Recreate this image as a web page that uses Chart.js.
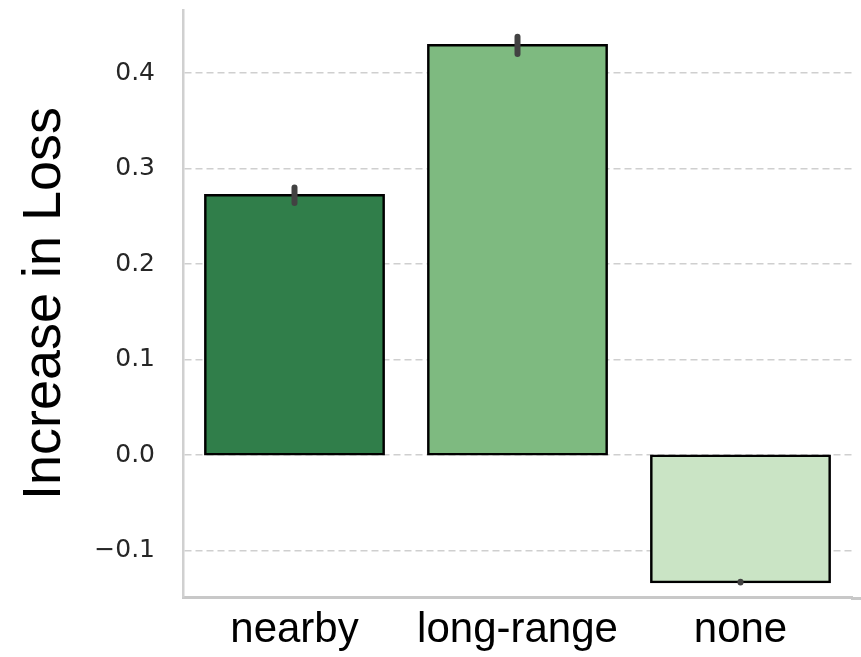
<!DOCTYPE html>
<html>
<head>
<meta charset="utf-8">
<script src="https://cdn.jsdelivr.net/npm/chart.js@4.4.0/dist/chart.umd.min.js"></script>
<style>
  html, body { margin: 0; padding: 0; background: #fff; }
  #wrap { width: 861px; height: 657px; }
</style>
</head>
<body>
<div id="wrap"><canvas id="loss_chart" width="861" height="657"></canvas></div>
<script>
const categories = ['nearby', 'long-range', 'none']
const lossValues = [0.272, 0.429, -0.133]
const errLow = [0.264, 0.420, -0.1336]
const errHigh = [0.280, 0.438, -0.1326]
const barColors = ['#307e4a', '#7eba80', '#cae4c5']
const yTicks = [-0.1, 0.0, 0.1, 0.2, 0.3, 0.4]
const yMin = -0.1487
const yMax = 0.466

// draws the error bars on top of the bars
const errorBars = {
    id: 'errorBars',
    afterDatasetsDraw(chart) {
        const ctx = chart.ctx
        const meta = chart.getDatasetMeta(0)
        const y = chart.scales.y
        ctx.save()
        ctx.strokeStyle = '#424242'
        ctx.lineWidth = 6
        ctx.lineCap = 'round'
        meta.data.forEach((bar, i) => {
            ctx.beginPath()
            ctx.moveTo(bar.x, y.getPixelForValue(errLow[i]))
            ctx.lineTo(bar.x, y.getPixelForValue(errHigh[i]))
            ctx.stroke()
        })
        ctx.restore()
    }
}

// bottom spine runs a little past the plot area
const spineExt = {
    id: 'spineExt',
    afterDraw(chart) {
        const ctx = chart.ctx
        const area = chart.chartArea
        ctx.save()
        ctx.strokeStyle = '#c8c8c8'
        ctx.lineWidth = 3
        ctx.beginPath()
        ctx.moveTo(area.right - 1, area.bottom + 1.5)
        ctx.lineTo(chart.width, area.bottom + 1.5)
        ctx.stroke()
        ctx.restore()
    }
}

const datas = {
    labels: categories,
    datasets: [{
        data: lossValues,
        backgroundColor: barColors,
        borderColor: '#000000',
        borderWidth: 2.5,
        borderSkipped: false,
        inflateAmount: 1.25,
        categoryPercentage: 0.8,
        barPercentage: 1.0
    }]
}

const config = {
    type: 'bar',
    data: datas,
    options: {
        responsive: false,
        animation: false,
        layout: { padding: { top: 10, right: 9, left: 0, bottom: 0 } },
        plugins: {
            legend: { display: false },
            tooltip: { enabled: false }
        },
        scales: {
            x: {
                offset: true,
                grid: { display: false, drawTicks: false },
                border: { display: true, color: '#c8c8c8', width: 3 },
                ticks: {
                    padding: 8,
                    color: '#000000',
                    font: { family: 'Liberation Sans', size: 42 }
                },
                afterFit: (scale) => {
                    scale.height = 60
                    scale.paddingLeft = 0
                    scale.paddingRight = 0
                }
            },
            y: {
                min: yMin,
                max: yMax,
                afterBuildTicks: (scale) => {
                    scale.ticks = yTicks.map(v => ({ value: v }))
                },
                grid: {
                    color: '#cfcfcf',
                    lineWidth: 1.5,
                    drawTicks: false
                },
                border: { display: true, color: '#d0d0d0', width: 2.5, dash: [7, 4] },
                ticks: {
                    padding: 28,
                    color: '#262626',
                    font: { family: 'DejaVu Sans', size: 25 },
                    callback: (v) => v < 0 ? '\u2212' + Math.abs(v).toFixed(1) : v.toFixed(1)
                },
                title: {
                    display: true,
                    text: 'Increase in Loss',
                    color: '#000000',
                    padding: { top: 13, bottom: 0 },
                    font: { family: 'Liberation Sans', size: 54 }
                },
                afterFit: (scale) => {
                    scale.width = 183
                    scale.paddingTop = 0
                    scale.paddingBottom = 0
                }
            }
        }
    },
    plugins: [errorBars, spineExt]
}

const lossChart = new Chart(document.getElementById('loss_chart'), config)
</script>
</body>
</html>
